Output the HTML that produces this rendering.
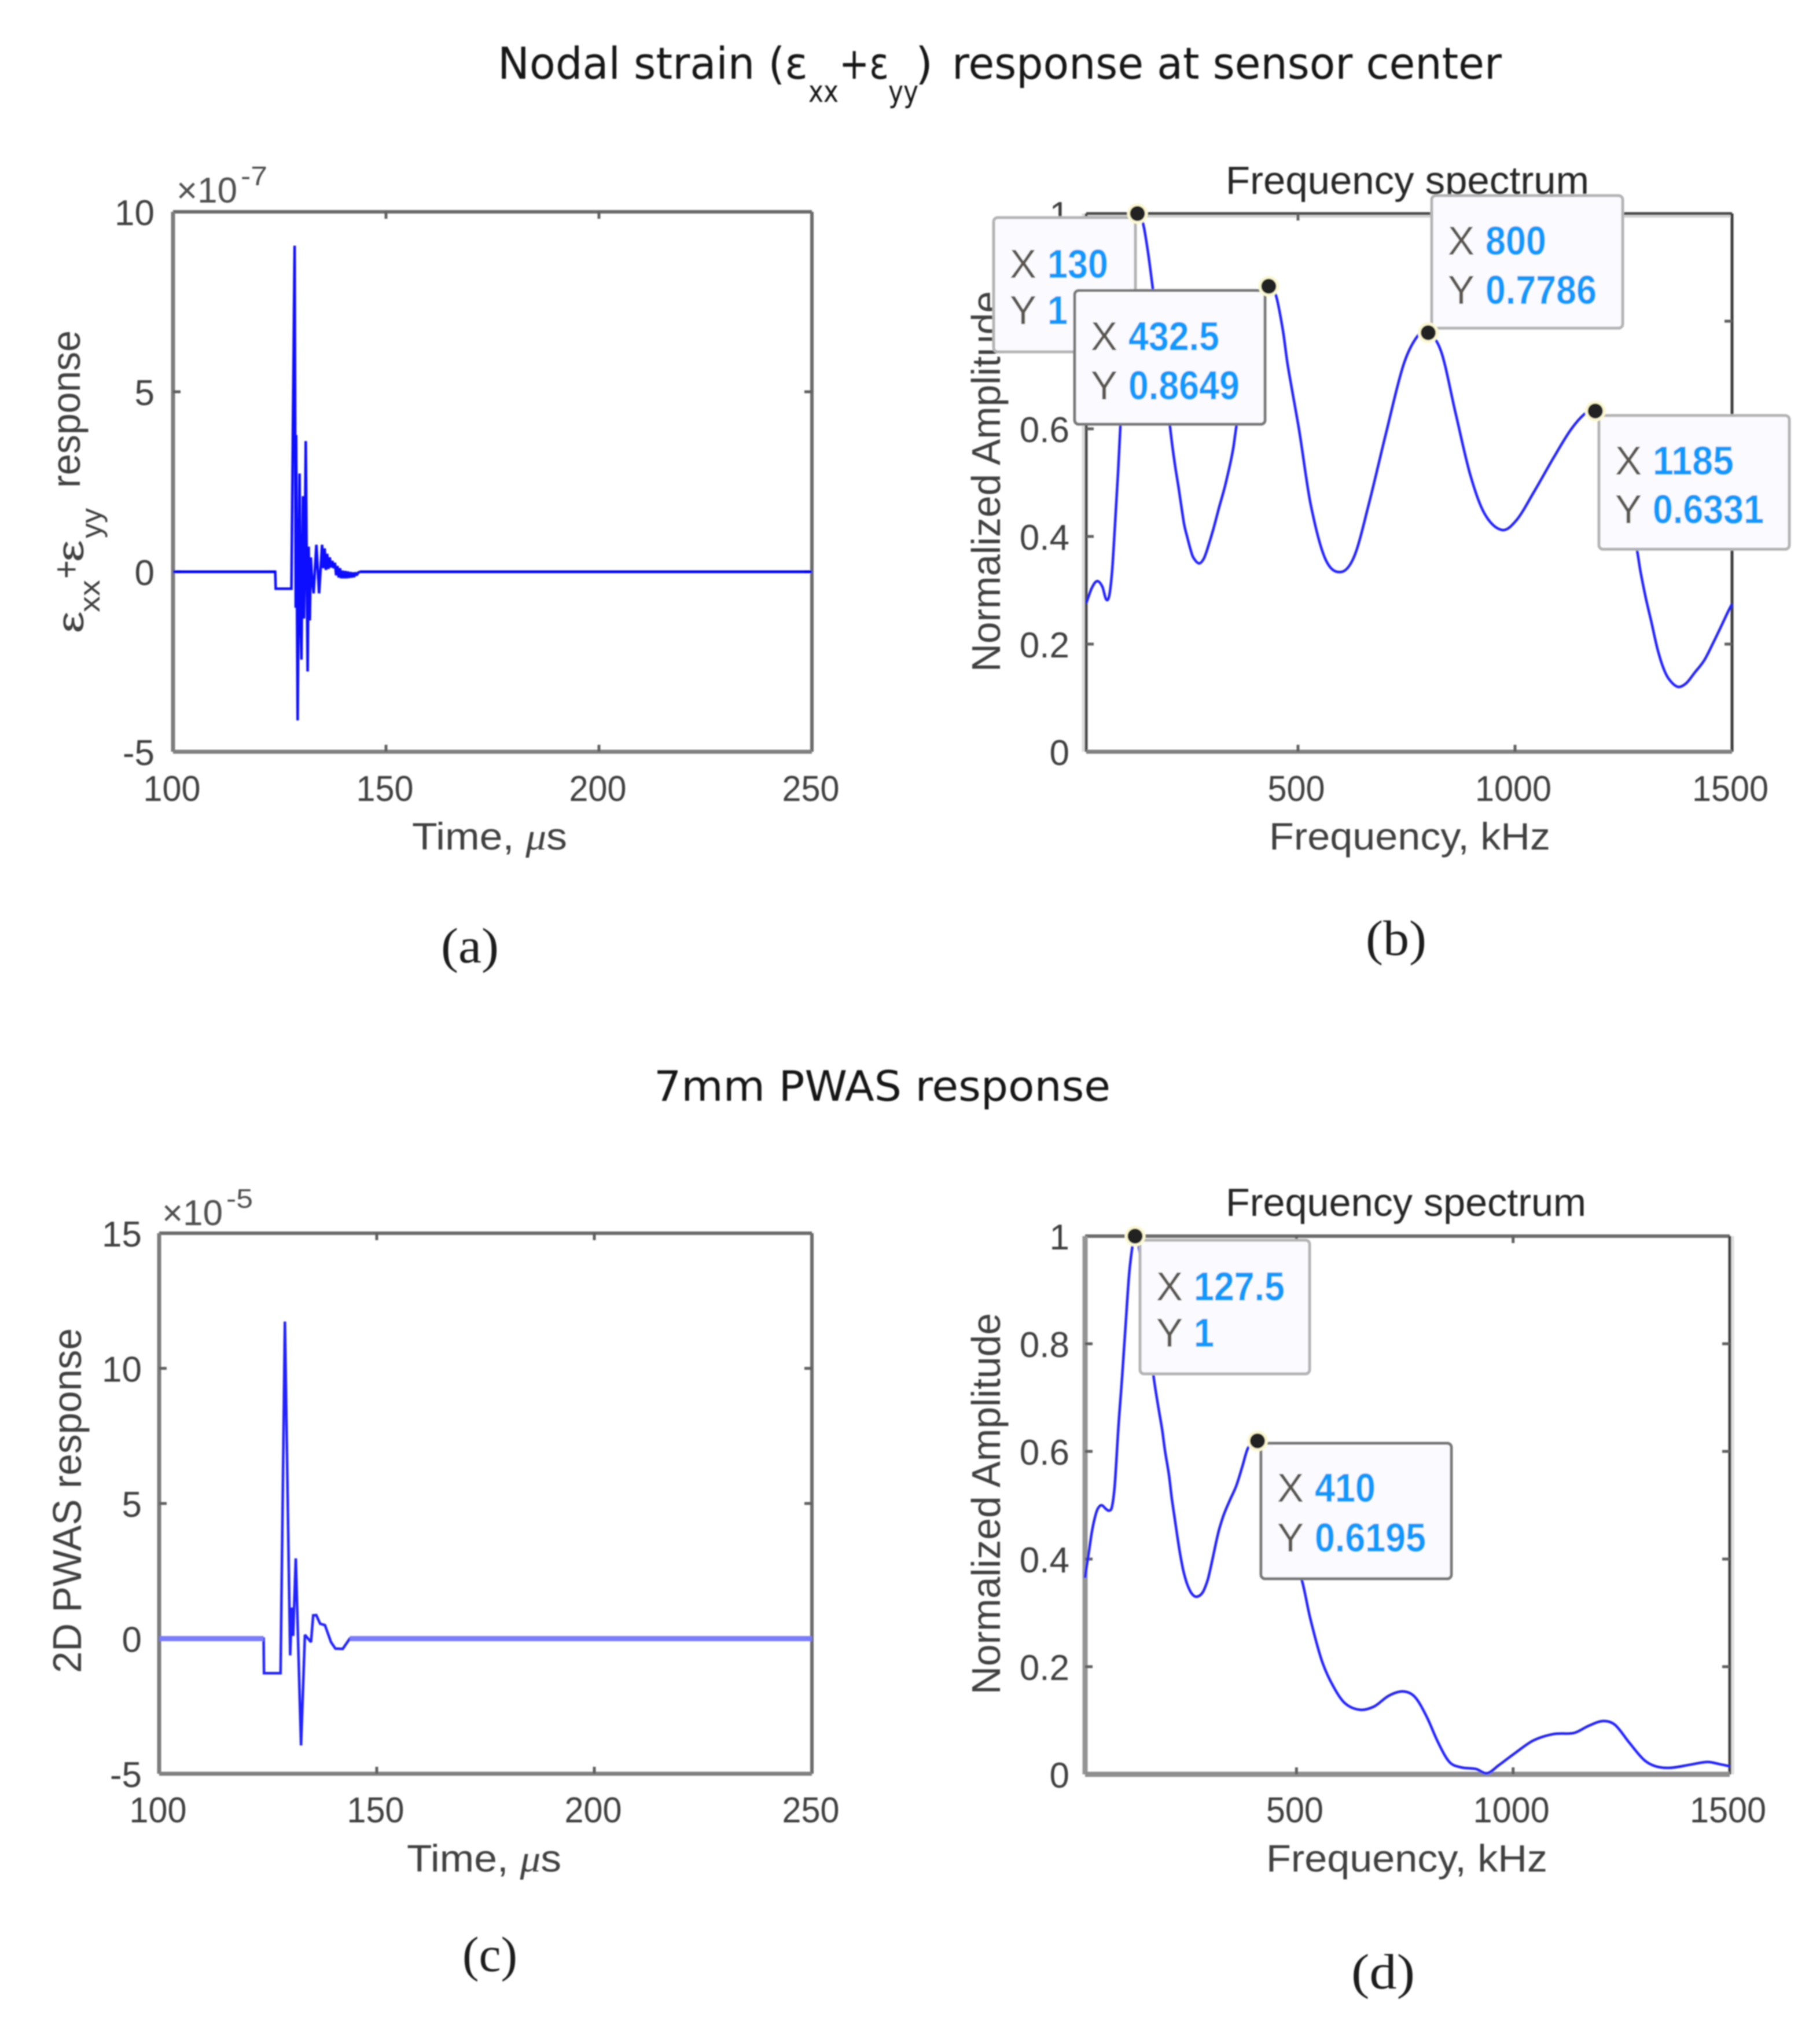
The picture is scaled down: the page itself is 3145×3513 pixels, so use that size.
<!DOCTYPE html>
<html lang="en">
<head>
<meta charset="utf-8">
<title>Nodal strain and PWAS response</title>
<style>
html,body{margin:0;padding:0;background:#fff;}
svg{display:block;}
text{font-family:"Liberation Sans","DejaVu Sans",sans-serif;}
</style>
</head>
<body>
<svg id="figure" xmlns="http://www.w3.org/2000/svg" width="3145" height="3513" viewBox="0 0 3145 3513">
  <defs>
    <filter id="soft" x="0" y="0" width="3145" height="3513" filterUnits="userSpaceOnUse"><feGaussianBlur stdDeviation="1.1"/></filter>
  </defs>
  <rect x="0" y="0" width="3145" height="3513" fill="#ffffff"/>
  <g id="root" filter="url(#soft)">
    <!-- section titles -->
    <g fill="#151515">
      <text x="860" y="136" font-size="76" textLength="536" lengthAdjust="spacingAndGlyphs" style="font-family:'DejaVu Sans',sans-serif">Nodal strain (ε</text>
      <text x="1397" y="176" font-size="52" textLength="52" lengthAdjust="spacingAndGlyphs" style="font-family:'DejaVu Sans',sans-serif">xx</text>
      <text x="1450" y="136" font-size="76" textLength="86" lengthAdjust="spacingAndGlyphs" style="font-family:'DejaVu Sans',sans-serif">+ε</text>
      <text x="1535" y="176" font-size="52" textLength="52" lengthAdjust="spacingAndGlyphs" style="font-family:'DejaVu Sans',sans-serif">yy</text>
      <text x="1582" y="136" font-size="76" textLength="30" lengthAdjust="spacingAndGlyphs" style="font-family:'DejaVu Sans',sans-serif">)</text>
      <text x="1645" y="136" font-size="76" textLength="950" lengthAdjust="spacingAndGlyphs" style="font-family:'DejaVu Sans',sans-serif">response at sensor center</text>
    </g>
    <text x="1130" y="1902" font-size="72" textLength="789" lengthAdjust="spacingAndGlyphs" fill="#151515" style="font-family:'DejaVu Sans',sans-serif">7mm PWAS response</text>

    <!-- subfigure captions -->
    <text x="762" y="1663" font-size="86" textLength="100" lengthAdjust="spacingAndGlyphs" fill="#1a1a1a" style="font-family:'Liberation Serif',serif">(a)</text>
    <text x="2360" y="1650" font-size="86" textLength="105" lengthAdjust="spacingAndGlyphs" fill="#1a1a1a" style="font-family:'Liberation Serif',serif">(b)</text>
    <text x="799" y="3406" font-size="86" textLength="95" lengthAdjust="spacingAndGlyphs" fill="#1a1a1a" style="font-family:'Liberation Serif',serif">(c)</text>
    <text x="2335" y="3436" font-size="86" textLength="110" lengthAdjust="spacingAndGlyphs" fill="#1a1a1a" style="font-family:'Liberation Serif',serif">(d)</text>

    <!-- panel a labels -->
    <g fill="#404040">
      <text transform="translate(144,1094) rotate(-90)" font-size="64" textLength="38" lengthAdjust="spacingAndGlyphs">ε</text>
      <text transform="translate(172,1058) rotate(-90)" font-size="50" textLength="56" lengthAdjust="spacingAndGlyphs">xx</text>
      <text transform="translate(136,1000) rotate(-90)" font-size="64" textLength="32" lengthAdjust="spacingAndGlyphs">+</text>
      <text transform="translate(144,971) rotate(-90)" font-size="64" textLength="38" lengthAdjust="spacingAndGlyphs">ε</text>
      <text transform="translate(175,930) rotate(-90)" font-size="50" textLength="52" lengthAdjust="spacingAndGlyphs">yy</text>
      <text transform="translate(138,843) rotate(-90)" font-size="70" textLength="272" lengthAdjust="spacingAndGlyphs">response</text>
    </g>
    <text x="712" y="1468" font-size="66" textLength="268" lengthAdjust="spacingAndGlyphs" fill="#404040">Time, <tspan font-style="italic" style="font-family:'Liberation Serif',serif">μ</tspan>s</text>
    <g fill="#505050">
      <text x="305" y="350" font-size="62" textLength="105" lengthAdjust="spacingAndGlyphs">×10</text>
      <text x="416" y="320" font-size="46" textLength="46" lengthAdjust="spacingAndGlyphs">-7</text>
    </g>

    <!-- panel b labels -->
    <text transform="translate(1728,1161) rotate(-90)" font-size="70" textLength="658" lengthAdjust="spacingAndGlyphs" fill="#404040">Normalized Amplitude</text>
    <text x="2193" y="1468" font-size="66" textLength="486" lengthAdjust="spacingAndGlyphs" fill="#404040">Frequency, kHz</text>
    <text x="2118" y="335" font-size="68" textLength="628" lengthAdjust="spacingAndGlyphs" fill="#262626">Frequency spectrum</text>

    <!-- panel c labels -->
    <text transform="translate(140,2891) rotate(-90)" font-size="70" textLength="596" lengthAdjust="spacingAndGlyphs" fill="#404040">2D PWAS response</text>
    <text x="703" y="3234" font-size="66" textLength="267" lengthAdjust="spacingAndGlyphs" fill="#404040">Time, <tspan font-style="italic" style="font-family:'Liberation Serif',serif">μ</tspan>s</text>
    <g fill="#505050">
      <text x="280" y="2117" font-size="62" textLength="105" lengthAdjust="spacingAndGlyphs">×10</text>
      <text x="391" y="2087" font-size="46" textLength="46" lengthAdjust="spacingAndGlyphs">-5</text>
    </g>

    <!-- panel d labels -->
    <text transform="translate(1728,2928) rotate(-90)" font-size="70" textLength="659" lengthAdjust="spacingAndGlyphs" fill="#404040">Normalized Amplitude</text>
    <text x="2188" y="3234" font-size="66" textLength="486" lengthAdjust="spacingAndGlyphs" fill="#404040">Frequency, kHz</text>
    <text x="2118" y="2101" font-size="68" textLength="623" lengthAdjust="spacingAndGlyphs" fill="#262626">Frequency spectrum</text>

    <g id="plots"></g>
  </g>
</svg>
<script>
// ---------- Panel (a): nodal strain vs. time (values in units of 1e-7) ----------
const panelATime = [100,124.0,124.1,127.8,128.55,128.8,128.9,129.25,129.7,129.95,130.15,130.5,130.75,130.95,131.15,131.6,131.85,132.1,132.35,132.6,133.0,133.65,134.3,135.0,135.3,135.6,135.9,136.2,136.5,136.8,137.1,137.4,137.7,138.0,138.3,138.6,138.9,139.2,139.5,139.8,140.1,140.4,140.7,141.0,141.3,141.6,141.9,142.2,142.5,142.8,143.1,143.5,144.0,250];
const panelAValue = [0,0,-0.47,-0.47,9.06,-1.0,3.8,-4.13,2.73,-1.3,-2.44,2.1,-1.3,0.7,3.63,-2.77,0.7,-1.35,0.4,-0.1,-0.6,0.75,-0.6,0.75,0.1,0.65,0.05,0.5,0.08,0.4,0.12,0.3,0.1,0.25,-0.1,0.16,-0.16,0.1,-0.18,0.03,-0.18,0.02,-0.18,0.01,-0.17,-0.01,-0.16,-0.02,-0.15,-0.02,-0.1,-0.02,0,0];
const panelAXTicks = [100,150,200,250];
const panelAYTicks = [10,5,0,-5];

// ---------- Panel (b): strain frequency spectrum ----------
const panelBFreq = [12,25,37,49.3,58,65,71.6,78,85,90.7,100,109,118,130,143,154,165,185,205,211.6,218,225,231.6,238,245,251.6,258,271.6,282.7,291.6,305,318,331.6,345,351.6,357,372,395,415,432.5,449.6,465,476,503,529,563,599,630,663,703,743,776,800,830,863,897,930,970,1003,1043,1090,1130,1164,1185,1217,1257,1281,1289,1301.5,1315,1328,1341.6,1355,1375,1394,1413.6,1436,1454.6,1473.7,1491.6,1500];
const panelBAmp = [0.276,0.3046,0.317,0.3065,0.283,0.29,0.335,0.4176,0.5145,0.604,0.75,0.88,0.97,1,0.981,0.93,0.8626,0.73,0.604,0.561,0.525,0.4897,0.4537,0.421,0.398,0.378,0.362,0.35,0.3585,0.378,0.414,0.4535,0.493,0.54,0.568,0.60,0.68,0.79,0.85,0.8649,0.8464,0.7836,0.72,0.595,0.46,0.358,0.334,0.364,0.46,0.593,0.719,0.773,0.7786,0.743,0.629,0.514,0.442,0.412,0.43,0.482,0.548,0.60,0.63,0.6331,0.60,0.47,0.3746,0.335,0.285,0.238,0.1916,0.156,0.1345,0.1206,0.127,0.1467,0.17,0.199,0.231,0.2616,0.2745];
const panelBPeakFreq = [130,800,1185,432.5];
const panelBPeakAmp = [1,0.7786,0.6331,0.8649];
const spectrumXTicks = [500,1000,1500];
const spectrumYTicks = [0,0.2,0.4,0.6,0.8,1];

// ---------- Panel (c): PWAS response vs. time (values in units of 1e-5) ----------
const panelCTime = [100,124.0,124.1,127.9,128.9,130.1,130.5,130.8,131.0,131.4,132.6,133.5,134.9,135.4,136.1,137.0,138.1,139.5,140.5,142.2,143.8,250];
const panelCValue = [0,0,-1.28,-1.28,11.73,-0.62,1.15,0.1,1.1,2.97,-3.95,0.14,-0.13,0.86,0.87,0.55,0.5,-0.13,-0.37,-0.38,0,0];
const panelCXTicks = [100,150,200,250];
const panelCYTicks = [15,10,5,0,-5];

// ---------- Panel (d): PWAS frequency spectrum ----------
const panelDFreq = [12,14,21,27.6,34,41,50,61,67.7,74,80,84.5,88.5,94,98,106,115,127.5,140,155,170,181,190,196.7,205.6,212,219,225.6,232,239,248,259,270,283.4,294.6,301,308,314.7,321,332,346,361,375,388,410,438,479,512,532,559,586,612,646,679,713,746,773,800,827,853,880,914,940,967,1007,1047,1094,1141,1174,1208,1235,1268,1302,1329,1362,1409,1449,1476,1500];
const panelDAmp = [0.365,0.378,0.414,0.45,0.475,0.493,0.5,0.4925,0.49,0.4966,0.532,0.586,0.64,0.70,0.744,0.84,0.94,1,0.96,0.85,0.7406,0.683,0.64,0.60,0.557,0.514,0.475,0.439,0.4066,0.378,0.3527,0.335,0.33,0.338,0.36,0.381,0.4066,0.432,0.4535,0.482,0.509,0.536,0.572,0.606,0.6195,0.58,0.43,0.362,0.289,0.21,0.162,0.132,0.12,0.126,0.146,0.154,0.144,0.108,0.059,0.023,0.013,0.01,0.002,0.017,0.041,0.063,0.075,0.077,0.09,0.099,0.092,0.059,0.027,0.015,0.012,0.018,0.023,0.019,0.015];
const panelDPeakFreq = [127.5,410];
const panelDPeakAmp = [1,0.6195];

// ---------- Helpers ----------
const NS = 'http://www.w3.org/2000/svg';
const plots = document.getElementById('plots');

function make(tag, parent, props) {
  const el = document.createElementNS(NS, tag);
  for (const k in props) el.setAttribute(k, props[k]);
  parent.appendChild(el);
  return el;
}

function makeScale(d0, d1, r0, r1) {
  return function (v) { return r0 + (v - d0) * (r1 - r0) / (d1 - d0); };
}

function fmt(v) { return String(v); }

function drawEdge(frame, name, d, color, width) {
  const edge = make('path', frame, {d:d, fill:'none', stroke:color, 'stroke-width':width});
  
  
}

function drawFrame(parent, box, style) {
  const frame = make('g', parent, {});
  
  
  if (style.rightGlow) {
    drawEdge(frame, 'axes-right-edge-shadow', 'M'+(box.r+5)+' '+box.t+'V'+box.b, '#dedede', 5);
  }
  if (style.topGlow) {
    drawEdge(frame, 'axes-top-edge-shadow', 'M'+box.l+' '+(box.t+5)+'H'+box.r, '#cfcfcf', 4);
  }
  if (style.leftGlow) {
    drawEdge(frame, 'axes-left-edge-shadow', 'M'+(box.l-5)+' '+box.t+'V'+box.b, '#dcdcdc', 5);
  }
  drawEdge(frame, 'axes-top-edge', 'M'+box.l+' '+box.t+'H'+box.r, style.top[0], style.top[1]);
  drawEdge(frame, 'axes-right-edge', 'M'+box.r+' '+box.t+'V'+box.b, style.right[0], style.right[1]);
  drawEdge(frame, 'axes-left-edge', 'M'+box.l+' '+box.t+'V'+box.b, style.left[0], style.left[1]);
  drawEdge(frame, 'axes-bottom-edge', 'M'+box.l+' '+box.b+'H'+box.r, style.bottom[0], style.bottom[1]);
  return frame;
}

function drawXTicks(frame, box, sx, ticks, y, widthPerChar, shift) {
  ticks.forEach(function (t) {
    const x = sx(t);
    if (x > box.l + 2 && x < box.r - 2) {
      const a = make('path', frame, {d:'M'+x+' '+box.b+'v-12M'+x+' '+box.t+'v12', stroke:'#606060', 'stroke-width':5, fill:'none'});
      
      
    }
    const label = fmt(t);
    const w = label.length * widthPerChar;
    const tx = make('text', frame, {x:x - w / 2 + shift, y:y, 'font-size':62, fill:'#404040', textLength:w, lengthAdjust:'spacingAndGlyphs'});
    tx.textContent = label;
    
    
  });
}

function drawYTicks(frame, box, sy, ticks, rightX) {
  ticks.forEach(function (t) {
    const y = sy(t);
    if (y > box.t + 2 && y < box.b - 2) {
      const a = make('path', frame, {d:'M'+box.l+' '+y+'h13M'+box.r+' '+y+'h-13', stroke:'#606060', 'stroke-width':5, fill:'none'});
      
      
    }
    const label = fmt(t);
    const tx = make('text', frame, {x:rightX, y:y + 23, 'font-size':62, fill:'#404040', 'text-anchor':'end'});
    tx.textContent = label;
    
    
  });
}

// Time-domain trace: straight segments; flat zero runs get their own style.
function drawTrace(parent, xs, ys, sx, sy, color, width, zeroColor, zeroWidth) {
  let d = '', z = '';
  for (let i = 0; i < xs.length; i++) {
    const X = sx(xs[i]).toFixed(1), Y = sy(ys[i]).toFixed(1);
    d += (i ? 'L' : 'M') + X + ' ' + Y;
    if (i && ys[i] === 0 && ys[i - 1] === 0) {
      z += 'M' + sx(xs[i - 1]).toFixed(1) + ' ' + sy(0).toFixed(1) + 'L' + X + ' ' + Y;
    }
  }
  const line = make('path', parent, {d:d, fill:'none', stroke:color, 'stroke-width':width, 'stroke-linejoin':'miter', 'stroke-miterlimit':2});
  
  
  const base = make('path', parent, {d:z, fill:'none', stroke:zeroColor, 'stroke-width':zeroWidth});
  
  
}

// Spectrum curve: smooth spline (non-uniform tangents) through the read values.
function drawSpectrum(parent, xs, ys, sx, sy) {
  const p = xs.map(function (v, i) { return [sx(v), sy(ys[i])]; });
  let d = 'M' + p[0][0].toFixed(1) + ' ' + p[0][1].toFixed(1);
  function slope(i) {
    const a = p[Math.max(i - 1, 0)], c = p[Math.min(i + 1, p.length - 1)];
    return (c[1] - a[1]) / (c[0] - a[0]);
  }
  for (let i = 0; i < p.length - 1; i++) {
    const b = p[i], c = p[i + 1], h = (c[0] - b[0]) / 3;
    d += 'C' + (b[0] + h).toFixed(1) + ' ' + (b[1] + slope(i) * h).toFixed(1) + ' ' + (c[0] - h).toFixed(1) + ' ' + (c[1] - slope(i + 1) * h).toFixed(1) + ' ' + c[0].toFixed(1) + ' ' + c[1].toFixed(1);
  }
  const line = make('path', parent, {d:d, fill:'none', stroke:'#2020ff', 'stroke-width':4.5});
  
  
}

// Data tip: box is placed by literal layout numbers, text and marker come from the data.
function drawTip(parent, sx, sy, f, amp, left, top, w, h, edge, xBase, yBase) {
  const g = make('g', parent, {});
  
  
  const rect = make('rect', g, {x:left, y:top, width:w, height:h, rx:7, fill:'#fafaff', stroke:edge, 'stroke-width':5});
  
  
  const rows = [['X', f, xBase], ['Y', amp, yBase]];
  rows.forEach(function (r) {
    const key = make('text', g, {x:left + 28, y:r[2], 'font-size':70, fill:'#5a5650', textLength:46, lengthAdjust:'spacingAndGlyphs'});
    key.textContent = r[0];
    
    
    const s = fmt(r[1]);
    let adv = 0;
    for (const ch of s) adv += ch === '.' ? 17 : 35;
    const val = make('text', g, {x:left + 93, y:r[2], 'font-size':70, 'font-weight':'bold', fill:'#0a9aff', textLength:adv, lengthAdjust:'spacingAndGlyphs'});
    val.textContent = s;
    
    
  });
  const halo = make('circle', g, {cx:sx(f), cy:sy(amp), r:18, fill:'#fbf8d2'});
  
  
  const dot = make('circle', g, {cx:sx(f), cy:sy(amp), r:13, fill:'#202020'});
  
  
}

// ---------- Panel (a) ----------
(function () {
  const box = {l:299, r:1403, t:366, b:1299};
  const sx = makeScale(100, 250, box.l, box.r);
  const sy = makeScale(-5, 10, box.b, box.t);
  const g = make('g', plots, {});
  
  
  const frame = drawFrame(g, box, {top:['#6a6a6a',6], right:['#6a6a6a',6], left:['#7c7c7c',7], bottom:['#808080',7]});
  drawXTicks(frame, box, sx, panelAXTicks, 1384, 33, -2);
  drawYTicks(frame, box, sy, panelAYTicks, 267);
  drawTrace(g, panelATime, panelAValue, sx, sy, '#0c0cff', 4.5, '#0000ff', 4.5);
})();

// ---------- Panel (b) ----------
(function () {
  const box = {l:1877, r:2993, t:369, b:1299};
  const sx = makeScale(12, 1500, box.l, box.r);
  const sy = makeScale(0, 1, box.b, box.t);
  const g = make('g', plots, {});
  
  
  const frame = drawFrame(g, box, {top:['#4c4c4c',5], right:['#3a3a3a',5], left:['#484848',5], bottom:['#808080',7], topGlow:true, leftGlow:true});
  drawXTicks(frame, box, sx, spectrumXTicks, 1384, 33, -3);
  drawYTicks(frame, box, sy, spectrumYTicks, 1848);
  drawSpectrum(g, panelBFreq, panelBAmp, sx, sy);
  drawTip(g, sx, sy, panelBPeakFreq[0], panelBPeakAmp[0], 1717, 376, 245, 232, '#b4b4b4', 480, 560);
  drawTip(g, sx, sy, panelBPeakFreq[1], panelBPeakAmp[1], 2474, 338, 330, 229, '#b4b4b4', 440, 525);
  drawTip(g, sx, sy, panelBPeakFreq[2], panelBPeakAmp[2], 2763, 718, 329, 231, '#b4b4b4', 820, 904);
  drawTip(g, sx, sy, panelBPeakFreq[3], panelBPeakAmp[3], 1857, 502, 329, 231, '#787878', 605, 690);
})();

// ---------- Panel (c) ----------
(function () {
  const box = {l:275, r:1403, t:2131, b:3065};
  const sx = makeScale(100, 250, box.l, box.r);
  const sy = makeScale(-5, 15, box.b, box.t);
  const g = make('g', plots, {});
  
  
  const frame = drawFrame(g, box, {top:['#6a6a6a',6], right:['#6a6a6a',6], left:['#7c7c7c',7], bottom:['#808080',7]});
  drawXTicks(frame, box, sx, panelCXTicks, 3149, 33, -2);
  drawYTicks(frame, box, sy, panelCYTicks, 245);
  drawTrace(g, panelCTime, panelCValue, sx, sy, '#2020ff', 4.5, '#7c7cff', 9);
})();

// ---------- Panel (d) ----------
(function () {
  const box = {l:1875, r:2989, t:2136, b:3066};
  const sx = makeScale(12, 1500, box.l, box.r);
  const sy = makeScale(0, 1, box.b, box.t);
  const g = make('g', plots, {});
  
  
  const frame = drawFrame(g, box, {top:['#6a6a6a',6], right:['#404040',5], left:['#949494',9], bottom:['#8e8e8e',9], rightGlow:true});
  drawXTicks(frame, box, sx, spectrumXTicks, 3149, 33, -3);
  drawYTicks(frame, box, sy, spectrumYTicks, 1848);
  drawSpectrum(g, panelDFreq, panelDAmp, sx, sy);
  drawTip(g, sx, sy, panelDPeakFreq[0], panelDPeakAmp[0], 1970, 2143, 293, 231, '#b4b4b4', 2247, 2327);
  drawTip(g, sx, sy, panelDPeakFreq[1], panelDPeakAmp[1], 2179, 2494, 329, 234, '#787878', 2595, 2681);
})();
</script>
</body>
</html>
